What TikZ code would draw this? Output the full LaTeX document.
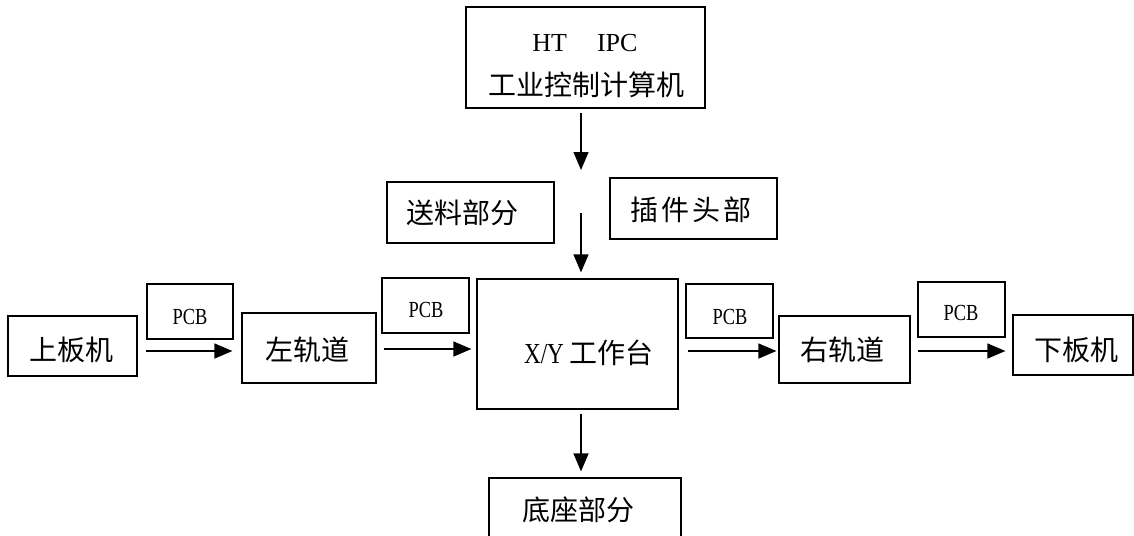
\documentclass[tikz,border=0pt]{standalone}
\usepackage{fontspec}
\setmainfont{Liberation Serif}
\newfontfamily\cjk{Noto Sans CJK SC}
\newfontfamily\cond[FakeStretch=0.8]{Liberation Serif}
\usetikzlibrary{arrows.meta}
\begin{document}
\begin{tikzpicture}[x=1pt,y=-1pt,
  box/.style={draw, line width=1.2pt, inner sep=0pt},
  txt/.style={inner sep=0pt, font=\cjk\fontsize{28}{30}\selectfont},
  pcbtxt/.style={inner sep=0pt, font=\cond\fontsize{23}{26}\selectfont},
  arr/.style={-{Triangle[length=18pt,width=15pt]}, line width=1.3pt}]
\useasboundingbox (0,0) rectangle (1134,535);
\clip (0,0) rectangle (1134,535);
\fill[white] (0,0) rectangle (1134,535);
% boxes
\node[box, minimum width=239pt, minimum height=101pt] (ipc) at (585.5,57.5) {};
\node[box, minimum width=167pt, minimum height=61pt] (sl) at (470.5,212.5) {};
\node[box, minimum width=167pt, minimum height=61pt] (cj) at (693.5,208.5) {};
\node[box, minimum width=129pt, minimum height=60pt] (sb) at (72.5,346) {};
\node[box, minimum width=86pt, minimum height=55pt] (p1) at (190,311.5) {};
\node[box, minimum width=134pt, minimum height=70pt] (zg) at (309,348) {};
\node[box, minimum width=87pt, minimum height=55pt] (p2) at (425.5,305.5) {};
\node[box, minimum width=201pt, minimum height=130pt] (xy) at (577.5,344) {};
\node[box, minimum width=87pt, minimum height=54pt] (p3) at (729.5,311) {};
\node[box, minimum width=131pt, minimum height=67pt] (yg) at (844.5,349.5) {};
\node[box, minimum width=87pt, minimum height=55pt] (p4) at (961.5,309.5) {};
\node[box, minimum width=120pt, minimum height=60pt] (xb) at (1073,345) {};
\node[box, minimum width=192pt, minimum height=90pt] (dz) at (585,523) {};
% texts
\node[inner sep=0pt, font=\fontsize{26}{30}\selectfont] (ipct1) at (585,43) {HT\hspace{30pt}IPC};
\node[txt] (ipct2) at (586,85) {工业控制计算机};
\node[txt] (slt) at (462,213) {送料部分};
\node[txt] (cjt) at (691,210) {插\hspace{3pt}件\hspace{3pt}头\hspace{3pt}部};
\node[txt] (sbt) at (71,350) {上板机};
\node[pcbtxt] (p1t) at (190,317) {PCB};
\node[txt] (zgt) at (307,350) {左轨道};
\node[pcbtxt] (p2t) at (426,310) {PCB};
\node[inner sep=0pt] (xyt) at (589,353) {{\cond\fontsize{29}{30}\selectfont X/Y}\hspace{6pt}{\cjk\fontsize{28}{30}\selectfont 工作台}};
\node[pcbtxt] (p3t) at (730,317) {PCB};
\node[txt] (ygt) at (842,350) {右轨道};
\node[pcbtxt] (p4t) at (961,313) {PCB};
\node[txt] (xbt) at (1076,350) {下板机};
\node[txt] (dzt) at (578,510) {底座部分};
% connectors
\coordinate (a1end) at (581,170);
\coordinate (a2start) at (581,213);
\draw[arr] ([xshift=-4.5pt,yshift=-4pt]ipc.south) -- (a1end);
\draw[arr] (a2start) -- ([xshift=3.5pt,yshift=6pt]xy.north);
\draw[arr] ([xshift=3.5pt,yshift=-4pt]xy.south) -- ([xshift=-4pt,yshift=6pt]dz.north);
\draw[arr] ([xshift=8pt,yshift=-5pt]sb.east) -- ([xshift=-9pt,yshift=-3pt]zg.west);
\draw[arr] ([xshift=7pt,yshift=-1pt]zg.east) -- ([xshift=-5pt,yshift=-5pt]xy.west);
\draw[arr] ([xshift=9pt,yshift=-7pt]xy.east) -- ([xshift=-2pt,yshift=-1.5pt]yg.west);
\draw[arr] ([xshift=7pt,yshift=-1.5pt]yg.east) -- ([xshift=-7pt,yshift=-6pt]xb.west);
\end{tikzpicture}
\end{document}
